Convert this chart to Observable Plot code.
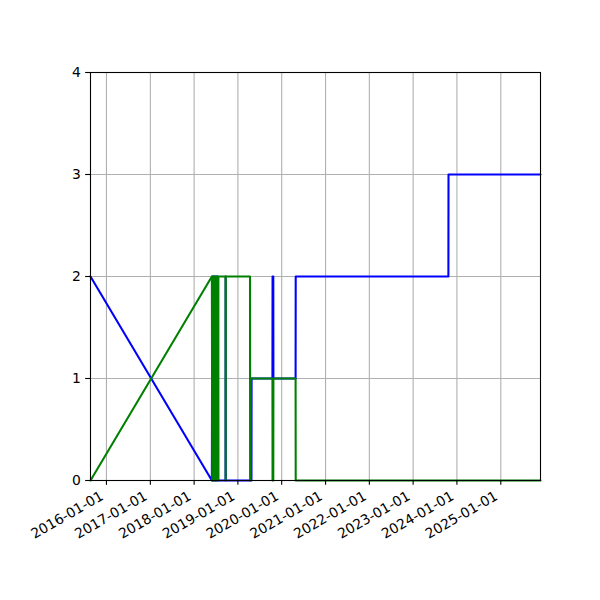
<!DOCTYPE html>
<html><head><meta charset="utf-8">
<script src="https://cdn.jsdelivr.net/npm/d3@7"></script>
<script src="https://cdn.jsdelivr.net/npm/@observablehq/plot@0.6"></script>
<style>body{margin:0;background:#fff}</style>
</head><body><div id="chart"></div>
<script>
const dates = [
  "2015-08-21",
  "2018-05-29",
  "2018-06-01","2018-06-04","2018-06-07","2018-06-10","2018-06-13","2018-06-16",
  "2018-06-19","2018-06-22","2018-06-25","2018-06-28","2018-07-01","2018-07-04",
  "2018-07-07","2018-07-10","2018-07-13","2018-07-16","2018-07-19","2018-07-22",
  "2018-09-20","2018-09-21","2018-09-22",
  "2019-04-12","2019-04-13","2019-04-17","2019-04-18","2019-04-24","2019-04-25",
  "2019-10-16","2019-10-17","2019-10-23","2019-10-24",
  "2020-04-26","2020-04-27",
  "2023-10-22","2023-10-23",
  "2025-11-28"
];
const blueValues = [
  2,
  0,
  2,0,2,0,2,0, 2,0,2,0,2,0, 2,0,2,0,2,0,
  0,2,0,
  0,0,0,0,0,1,
  1,2,2,1,
  1,2,
  2,3,
  3
];
const greenValues = [
  0,
  2,
  0,2,0,2,0,2, 0,2,0,2,0,2, 0,2,0,2,0,2,
  2,0,2,
  2,0,0,1,1,1,
  1,0,0,1,
  1,0,
  0,0,
  0
];
const yTicks = [0, 1, 2, 3, 4];
const xTickLabels = ["2016-01-01","2017-01-01","2018-01-01","2019-01-01","2020-01-01",
                     "2021-01-01","2022-01-01","2023-01-01","2024-01-01","2025-01-01"];
const xDomain = ["2015-08-21", "2025-11-28"];

const parse = d3.utcParse("%Y-%m-%d");
const rows = dates.map((d, i) => ({date: parse(d), blue: blueValues[i], green: greenValues[i]}));
const tickDates = xTickLabels.map(parse);
const FS = 13.9;

const chart = Plot.plot({
  width: 600, height: 600,
  marginLeft: 90, marginRight: 60, marginTop: 72, marginBottom: 120,
  style: {fontFamily: "DejaVu Sans", fontSize: FS + "px", color: "black", background: "white", overflow: "visible"},
  x: {type: "utc", domain: xDomain.map(parse)},
  y: {domain: [0, 4]},
  marks: [
    Plot.gridX(tickDates, {stroke: "#b0b0b0", strokeOpacity: 1, strokeWidth: 1.1}),
    Plot.gridY(yTicks, {stroke: "#b0b0b0", strokeOpacity: 1, strokeWidth: 1.1}),
    Plot.line(rows, {x: "date", y: "blue", stroke: "blue", strokeWidth: 2.08}),
    Plot.line(rows, {x: "date", y: "green", stroke: "green", strokeWidth: 2.08}),
    Plot.frame({stroke: "black", strokeWidth: 1.1}),
    Plot.axisY(yTicks, {tickSize: 4.86, tickPadding: 4.86, tickFormat: d => String(d), label: null, fontSize: FS, strokeWidth: 1.1, stroke: "black"}),
    Plot.axisX(tickDates, {tickSize: 4.86, tickFormat: () => "", label: null, strokeWidth: 1.1, stroke: "black"}),
    Plot.text(tickDates, {x: d => d, frameAnchor: "bottom", text: (d, i) => xTickLabels[i],
      rotate: -30, textAnchor: "end", lineAnchor: "top", dx: -7, dy: 9.7, fontSize: FS, fill: "black"})
  ]
});
document.getElementById("chart").appendChild(chart);
</script>
</body></html>
